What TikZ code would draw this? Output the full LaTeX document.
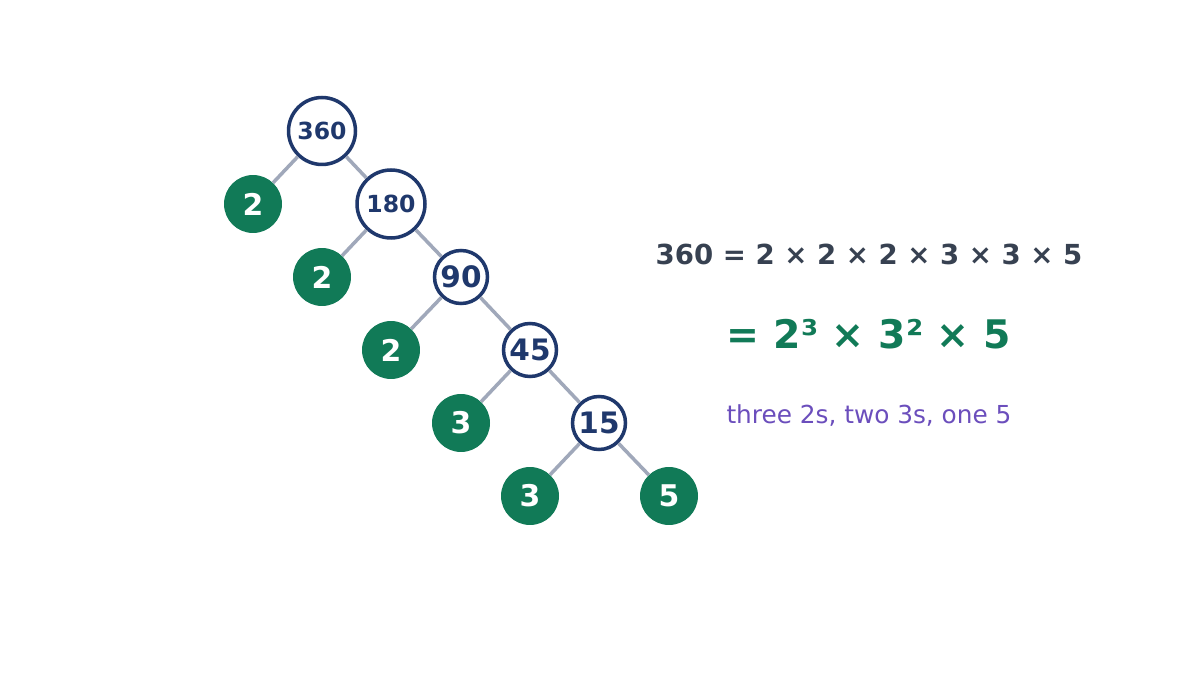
\documentclass[tikz,border=0pt]{standalone}
\usepackage{fontspec}
\setmainfont{DejaVu Sans}
\definecolor{navy}{RGB}{31,56,108}
\definecolor{leafgreen}{RGB}{17,122,87}
\definecolor{branchgray}{RGB}{160,168,186}
\definecolor{slate}{RGB}{55,65,81}
\definecolor{violet}{RGB}{107,78,188}
\tikzset{
  composite/.style = {circle, draw = navy, line width = 2pt, fill = white,
    text = navy, font = \bfseries, inner sep = 0pt},
  prime/.style = {circle, fill = leafgreen, text = white,
    font = \fontsize{17}{20}\selectfont\bfseries, minimum size = 1.16cm, inner sep = 0pt},
  branch/.style = {draw = branchgray, line width = 2pt}
}
\begin{document}
\begin{tikzpicture}[x = .02cm, y = -.02cm]
        \useasboundingbox (0,0) rectangle (1200,675);

        % draws the composite numbers
        \node[composite, minimum size = 1.34cm, font = \fontsize{13.4}{16}\selectfont\bfseries]
          (n360) at (322,131) {360};
        \node[composite, minimum size = 1.36cm, font = \fontsize{13.4}{16}\selectfont\bfseries]
          (n180) at (391,204) {180};
        \foreach \n/\x/\y in {90/461/277, 45/530/350, 15/599/423}
          \node[composite, minimum size = 1.06cm, font = \fontsize{16.8}{20}\selectfont\bfseries]
            (n\n) at (\x,\y) {\n};

        % draws the prime leaves
        \foreach \p/\x/\y [count = \i] in {2/253/204, 2/322/277, 2/391/350, 3/461/423, 3/530/496, 5/669/496}
          \node[prime] (p\i) at (\x,\y) {\p};

        % draws the branches
        \foreach \a/\b in {n360/p1, n360/n180, n180/p2, n180/n90, n90/p3, n90/n45,
                           n45/p4, n45/n15, n15/p5, n15/p6}
          \draw[branch] (\a) -- (\b);

        % draws the result
        \node[text = slate, font = \fontsize{15.7}{19}\selectfont\bfseries]
          (line1) at (869,254) {360 = 2 × 2 × 2 × 3 × 3 × 5};
        \node[text = leafgreen, font = \fontsize{22.4}{26}\selectfont\bfseries]
          (line2) at (869,334) {= 2³ × 3² × 5};
        \node[text = violet, font = \fontsize{14.1}{17}\selectfont]
          (line3) at (869,416) {three 2s, two 3s, one 5};
      \end{tikzpicture}
\end{document}
